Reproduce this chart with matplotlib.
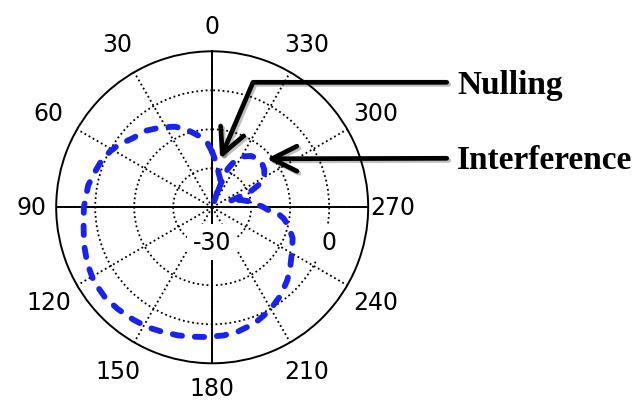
import numpy as np
import matplotlib
matplotlib.use("Agg")
import matplotlib.pyplot as plt
import matplotlib.patheffects as pe

# beam pattern (degrees, dB)
theta_deg = [0, 4, 10, 19, 25, 33, 41, 49, 56, 61, 67, 74, 80, 90, 98, 106,
             114, 122, 130, 137, 145, 152, 158, 165, 171, 177, 185, 192, 200,
             209, 218, 226, 233, 241, 249, 256, 261, 264, 267, 271, 275, 280,
             285, 289, 291, 293, 296, 301, 306, 311, 317, 323, 328, 331, 335,
             338, 340, 341, 342, 343, 346, 349, 352, 356, 360]
gain_db = [-15.8, -13.6, -11.5, -8.7, -7.2, -5.6, -4.0, -3.0, -1.2, -0.2, 0.8,
           1.5, 2.3, 2.9, 3.3, 4.2, 5.1, 5.8, 5.9, 5.6, 5.2, 4.9, 4.4, 4.0,
           3.6, 3.3, 3.0, 2.5, 1.7, 0.3, -1.4, -3.2, -4.9, -6.6, -7.9, -9.8,
           -11.4, -12.8, -15.5, -17.2, -19.2, -20.8, -22.6, -25.5, -23.0,
           -19.0, -16.5, -14.4, -13.5, -13.0, -12.9, -13.5, -14.6, -15.8,
           -17.5, -19.4, -24.0, -28.5, -25.5, -22.8, -22.0, -21.2, -19.8,
           -18.0, -15.8]

r_min, r_max = -30, 10
ring_ticks = [-20, -10, 0]
ring_labels = [-30, 0]
angle_ticks = list(range(0, 360, 30))

# where the arrows point (degrees, dB)
null_pt = (350.6, -17.4)
interf_pt = (311.7, -11.3)

fig = plt.figure(figsize=(6.37, 4.02), dpi=100)
ax = fig.add_axes([0.0882, 0.0938, 0.4898, 0.7761], projection="polar")
ax.set_theta_zero_location("N")
ax.set_theta_direction(1)
ax.set_rlim(r_min, r_max)
ax.set_rticks(ring_ticks)
ax.set_yticklabels([])
ax.set_thetagrids(angle_ticks, labels=[])
ax.grid(True, color="k", linestyle=(0, (1, 1.6)), linewidth=1.3)
ax.spines["polar"].set_linewidth(1.4)
ax.tick_params(axis="x", length=0)

# solid cross through the centre
for a in (0, 90):
    ax.plot(np.deg2rad([a, a, a + 180]), [r_max, r_min, r_max],
            color="k", lw=1.4, zorder=2)

# pattern
ax.plot(np.deg2rad(theta_deg), gain_db, color="#1a22ee", lw=4.2,
        linestyle=(0, (1.6, 2.2)), dash_capstyle="round", zorder=3)

# angle labels just outside the rim
for a in angle_ticks:
    frac = 1.16 + 0.06 * abs(np.sin(np.deg2rad(2 * a)))
    ax.text(np.deg2rad(a), r_min + (r_max - r_min) * frac, str(a),
            ha="center", va="center", fontsize=17, clip_on=False)

# radial labels
for v in ring_labels:
    ax.annotate(str(v), xy=(np.deg2rad(270), v), xytext=(0, -35),
                textcoords="offset pixels", ha="center", va="center",
                fontsize=17, zorder=4,
                bbox=dict(boxstyle="square,pad=0.25", fc="white", ec="none"))

shadow = [pe.SimpleLineShadow(offset=(1.5, -1.5), alpha=0.25), pe.Normal()]
arrow_kw = dict(arrowstyle="->,head_length=0.9,head_width=0.45",
                mutation_scale=20, color="k", lw=3.4,
                shrinkA=0, shrinkB=0, path_effects=shadow)

ax.annotate("", xy=(np.deg2rad(null_pt[0]), null_pt[1]),
            xytext=(446.7, 318.7), textcoords="figure pixels",
            arrowprops=dict(connectionstyle="angle,angleA=0,angleB=66.8,rad=0",
                            **arrow_kw), annotation_clip=False)
ax.annotate("", xy=(np.deg2rad(interf_pt[0]), interf_pt[1]),
            xytext=(446.7, 242.7), textcoords="figure pixels",
            arrowprops=dict(connectionstyle="arc3", **arrow_kw),
            annotation_clip=False)

fig.text(457.3 / 637, 307.7 / 402, "Nulling", ha="left", va="baseline",
         fontsize=24, fontweight="bold", family="Liberation Serif")
fig.text(457.3 / 637, 232.7 / 402, "Interference", ha="left", va="baseline",
         fontsize=24, fontweight="bold", family="Liberation Serif")

fig.savefig("out.png", dpi=100)
